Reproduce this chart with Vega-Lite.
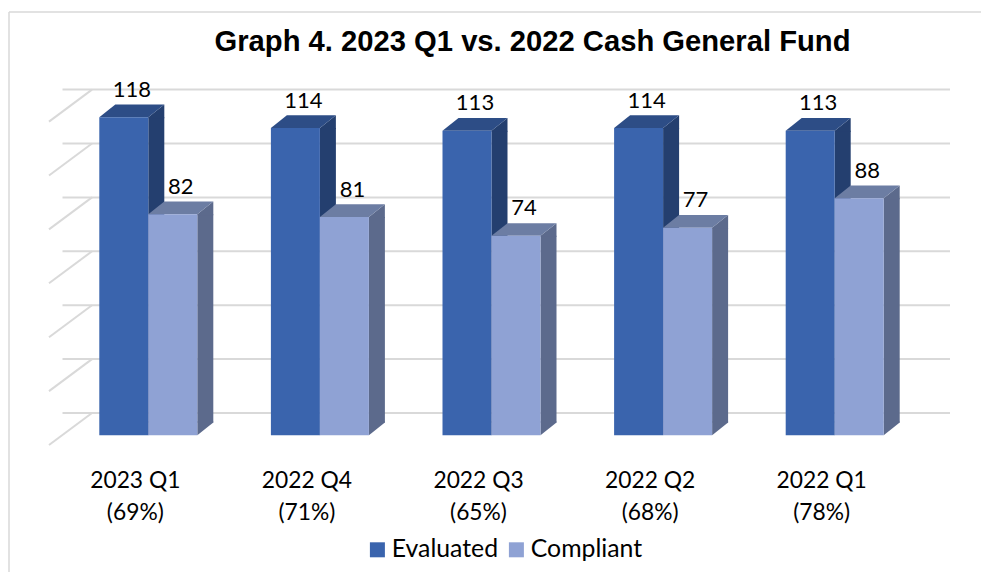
{
"$schema":"https://vega.github.io/schema/vega-lite/v6.json",
"width":858,"height":377.3,
"autosize":{"type":"none"},
"padding":{"left":62.5,"top":58,"right":60.5,"bottom":136.7},
"background":"white",
"view":{"stroke":null},
"title":{"text":"Graph 4. 2023 Q1 vs. 2022 Cash General Fund","font":"Liberation Sans","fontSize":29.2,"fontWeight":"bold","color":"#000000","anchor":"middle","dx":41,"offset":-46},
"data":{"values":[
{"period":"2023 Q1|(69%)","series":"Evaluated","value":118},
{"period":"2023 Q1|(69%)","series":"Compliant","value":82},
{"period":"2022 Q4|(71%)","series":"Evaluated","value":114},
{"period":"2022 Q4|(71%)","series":"Compliant","value":81},
{"period":"2022 Q3|(65%)","series":"Evaluated","value":113},
{"period":"2022 Q3|(65%)","series":"Compliant","value":74},
{"period":"2022 Q2|(68%)","series":"Evaluated","value":114},
{"period":"2022 Q2|(68%)","series":"Compliant","value":77},
{"period":"2022 Q1|(78%)","series":"Evaluated","value":113},
{"period":"2022 Q1|(78%)","series":"Compliant","value":88}
]},
"resolve":{"scale":{"color":"independent"}},
"layer":[
{"data":{"values":[{"frame":"top"}]},"mark":{"type":"rule","color":"#d9d9d9","strokeWidth":1.5},"encoding":{"x":{"value":-53.5},"x2":{"value":918.5},"y":{"value":-46}}},
{"data":{"values":[{"frame":"left"}]},"mark":{"type":"rule","color":"#d9d9d9","strokeWidth":1.5},"encoding":{"x":{"value":-53.5},"y":{"value":-46},"y2":{"value":514}}},
{"data":{"values":[{"tick":0},{"tick":20},{"tick":40},{"tick":60},{"tick":80},{"tick":100},{"tick":120}]},
 "mark":{"type":"rule","color":"#d9d9d9","strokeWidth":2,"xOffset":29.5,"yOffset":-22.3},
 "encoding":{"y":{"field":"tick","type":"quantitative","scale":{"domain":[0,140],"nice":false},"axis":null}}},
{"data":{"values":[{"tick":0},{"tick":20},{"tick":40},{"tick":60},{"tick":80},{"tick":100},{"tick":120}]},
 "mark":{"type":"point","shape":"M0 0L43 -32","size":4,"filled":false,"opacity":1,"color":"#d9d9d9","strokeWidth":2,"xOffset":-13.5,"yOffset":9.7},
 "encoding":{"x":{"datum":"2023 Q1|(69%)","bandPosition":0},"y":{"field":"tick","type":"quantitative"}}},
{"transform":[{"filter":"datum.series === 'Evaluated'"}],
 "mark":{"type":"bar","width":16,"xOffset":8,"strokeWidth":0,"color":"#243f6f"},
 "encoding":{"x":{"field":"period","type":"nominal","sort":null,"scale":{"paddingInner":0,"paddingOuter":0},
   "axis":{"title":null,"domain":false,"ticks":false,"grid":false,"labelAngle":0,"labelAlign":"center","labelExpr":"split(datum.label,'|')","labelFont":"Lato","labelFontSize":22.8,"labelColor":"#000000","labelOffset":-13,"labelPadding":45,"labelLineHeight":32,"labelBaseline":"middle"}},
  "y":{"field":"value","type":"quantitative"},"y2":{"datum":4.71}}},
{"transform":[{"filter":"datum.series === 'Compliant'"}],
 "mark":{"type":"bar","width":16,"xOffset":57,"strokeWidth":0,"color":"#5c6a8c"},
 "encoding":{"x":{"field":"period","type":"nominal","sort":null},
  "y":{"field":"value","type":"quantitative"},"y2":{"datum":4.71}}},
{"mark":{"type":"point","shape":"M24.5 0L40.5 -12.7L40.5 1L24.5 1Z","size":4,"filled":true,"opacity":1,"strokeWidth":0},
 "encoding":{"x":{"field":"period","type":"nominal","sort":null},
  "xOffset":{"field":"series","type":"nominal","sort":["Evaluated","Compliant"],"scale":{"domain":["Evaluated","Compliant"],"paddingInner":0,"paddingOuter":0.751}},
  "y":{"field":"value","type":"quantitative"},
  "color":{"field":"series","type":"nominal","scale":{"domain":["Evaluated","Compliant"],"range":["#243f6f","#5c6a8c"]},"legend":null}}},
{"mark":{"type":"point","shape":"M24.5 0L40.5 -12.7L40.5 -13.7L24.5 -13.7Z","size":4,"filled":true,"opacity":1,"strokeWidth":0},
 "encoding":{"x":{"field":"period","type":"nominal","sort":null},
  "xOffset":{"field":"series","type":"nominal","sort":["Evaluated","Compliant"]},
  "y":{"datum":0,"type":"quantitative"},
  "color":{"field":"series","type":"nominal","scale":{"domain":["Evaluated","Compliant"],"range":["#243f6f","#5c6a8c"]},"legend":null}}},
{"mark":{"type":"point","shape":"M-24.5 0L24.5 0L40.5 -12.7L-8.5 -12.7Z","size":4,"filled":true,"opacity":1,"strokeWidth":0},
 "encoding":{"x":{"field":"period","type":"nominal","sort":null},
  "xOffset":{"field":"series","type":"nominal","sort":["Evaluated","Compliant"]},
  "y":{"field":"value","type":"quantitative"},
  "color":{"field":"series","type":"nominal","scale":{"domain":["Evaluated","Compliant"],"range":["#2d4d86","#6c7da3"]},"legend":null}}},
{"mark":{"type":"bar","strokeWidth":0},
 "encoding":{"x":{"field":"period","type":"nominal","sort":null},
  "xOffset":{"field":"series","type":"nominal","sort":["Evaluated","Compliant"]},
  "y":{"field":"value","type":"quantitative"},
  "color":{"field":"series","type":"nominal","scale":{"domain":["Evaluated","Compliant"],"range":["#3a64ad","#8fa2d4"]},
   "legend":{"title":null,"orient":"none","legendX":302.5,"legendY":479,"direction":"horizontal","columns":2,"symbolType":"square","symbolSize":225,"symbolStrokeWidth":0,"labelFont":"Lato","labelFontSize":24.8,"labelColor":"#000000","labelOffset":2,"columnPadding":5,"padding":0}}}},
{"mark":{"type":"text","font":"Lato","fontSize":22,"color":"#000000","dx":8,"dy":-27.5,"baseline":"middle"},
 "encoding":{"x":{"field":"period","type":"nominal","sort":null},
  "xOffset":{"field":"series","type":"nominal","sort":["Evaluated","Compliant"]},
  "y":{"field":"value","type":"quantitative"},
  "text":{"field":"value","type":"quantitative"}}}
]
}
